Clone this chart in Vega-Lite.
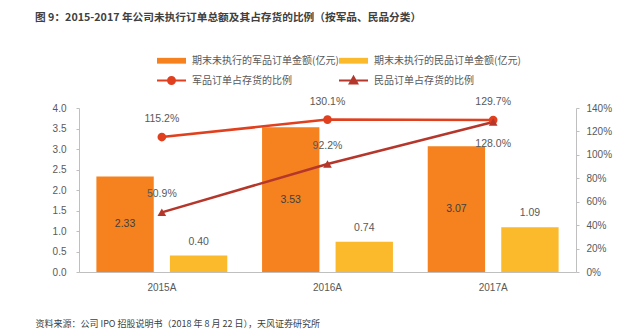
{
  "$schema": "https://vega.github.io/schema/vega-lite/v6.json",
  "width": 497,
  "height": 164,
  "autosize": {"type": "none"},
  "padding": {"left": 79, "top": 108, "right": 64, "bottom": 58},
  "background": "white",
  "config": {"view": {"stroke": null}, "font": "Noto Sans CJK SC"},
  "title": {
    "text": "图 9：2015-2017 年公司未执行订单总额及其占存货的比例（按军品、民品分类）",
    "anchor": "start",
    "frame": "group",
    "dx": -44,
    "offset": 22,
    "font": "Noto Sans CJK SC",
    "fontSize": 10.7,
    "fontWeight": "bold",
    "color": "#404040"
  },
  "datasets": {
    "bars": [
      {"year": "2015A", "series": "期末未执行的军品订单金额(亿元)", "value": 2.33},
      {"year": "2015A", "series": "期末未执行的民品订单金额(亿元)", "value": 0.40},
      {"year": "2016A", "series": "期末未执行的军品订单金额(亿元)", "value": 3.53},
      {"year": "2016A", "series": "期末未执行的民品订单金额(亿元)", "value": 0.74},
      {"year": "2017A", "series": "期末未执行的军品订单金额(亿元)", "value": 3.07},
      {"year": "2017A", "series": "期末未执行的民品订单金额(亿元)", "value": 1.09}
    ],
    "ratios": [
      {"year": "2015A", "series": "军品订单占存货的比例", "pct": 1.152},
      {"year": "2016A", "series": "军品订单占存货的比例", "pct": 1.301},
      {"year": "2017A", "series": "军品订单占存货的比例", "pct": 1.297},
      {"year": "2015A", "series": "民品订单占存货的比例", "pct": 0.509},
      {"year": "2016A", "series": "民品订单占存货的比例", "pct": 0.922},
      {"year": "2017A", "series": "民品订单占存货的比例", "pct": 1.280}
    ]
  },
  "layer": [
    {
      "data": {"name": "bars"},
      "encoding": {
        "x": {
          "field": "year",
          "type": "nominal",
          "scale": {"paddingInner": 0.21, "paddingOuter": 0.105},
          "axis": {
            "title": "资料来源：公司 IPO 招股说明书（2018 年 8 月 22 日），天风证券研究所",
            "labelAngle": 0,
            "ticks": false,
            "domainColor": "#BFBFBF",
            "labelPadding": 10,
            "labelColor": "#595959",
            "labelFont": "Liberation Sans",
            "labelFontSize": 10,
            "titleX": -44,
            "titleY": 51,
            "titleAlign": "left",
            "titleBaseline": "middle",
            "titleFontWeight": "normal",
            "titleFontSize": 9,
            "titleColor": "#404040",
            "titleFont": "Noto Sans CJK SC"
          }
        },
        "xOffset": {
          "field": "series",
          "type": "nominal",
          "scale": {"domain": ["期末未执行的军品订单金额(亿元)", "期末未执行的民品订单金额(亿元)"], "paddingInner": 0.22, "paddingOuter": 0}
        }
      },
      "layer": [
        {
          "mark": {"type": "bar"},
          "encoding": {
            "y": {
              "field": "value",
              "type": "quantitative",
              "scale": {"domain": [0, 4]},
              "axis": {
                "title": null,
                "values": [0, 0.5, 1, 1.5, 2, 2.5, 3, 3.5, 4],
                "format": ".1f",
                "grid": false,
                "domainColor": "#BFBFBF",
                "tickColor": "#BFBFBF",
                "tickSize": 3,
                "labelColor": "#595959",
                "labelFontSize": 10,
                "labelFont": "Liberation Sans",
                "labelPadding": 10
              }
            },
            "color": {
              "field": "series",
              "type": "nominal",
              "scale": {
                "domain": ["期末未执行的军品订单金额(亿元)", "期末未执行的民品订单金额(亿元)", "军品订单占存货的比例", "民品订单占存货的比例"],
                "range": ["#F5821F", "#FBB92C", "#E0401E", "#B5362A"]
              },
              "legend": {
                "title": null,
                "orient": "none",
                "legendX": 78,
                "legendY": -62,
                "direction": "horizontal",
                "columns": 2,
                "columnPadding": -4,
                "rowPadding": -4,
                "padding": 0,
                "symbolSize": 841,
                "labelFontSize": 10,
                "labelColor": "#595959",
                "labelOffset": 6,
                "labelLimit": 200,
                "symbolType": "M-1,-0.2H1V0.2H-1Z",
                "symbolStrokeWidth": 0,
                "encode": {
                  "symbols": {
                    "update": {
                      "shape": {"signal": "(datum.value === '军品订单占存货的比例' ? 'M-1,0H1M0.24,0A0.24,0.24 0 1,1 -0.24,0A0.24,0.24 0 1,1 0.24,0Z' : (datum.value === '民品订单占存货的比例' ? 'M-1,0H1M0,-0.26L0.26,0.2L-0.26,0.2Z' : 'M-1,-0.2H1V0.2H-1Z'))"},
                      "stroke": {"signal": "(datum.value === '军品订单占存货的比例' ? '#E0401E' : (datum.value === '民品订单占存货的比例' ? '#B5362A' : 'transparent'))"},
                      "strokeWidth": {"signal": "((datum.value === '军品订单占存货的比例' || datum.value === '民品订单占存货的比例') ? 2 : 0)"}
                    }
                  }
                }
              }
            }
          }
        },
        {
          "transform": [{"filter": "datum.series === '期末未执行的军品订单金额(亿元)'"}],
          "mark": {"type": "text", "baseline": "middle", "fontSize": 10.5, "font": "Liberation Sans", "color": "#404040"},
          "encoding": {
            "y": {"field": "value", "type": "quantitative", "scale": {"domain": [0, 8]}, "axis": null},
            "text": {"field": "value", "type": "quantitative", "format": ".2f"}
          }
        },
        {
          "transform": [{"filter": "datum.series === '期末未执行的民品订单金额(亿元)'"}],
          "mark": {"type": "text", "baseline": "middle", "dy": -14, "fontSize": 10.5, "font": "Liberation Sans", "color": "#595959"},
          "encoding": {
            "y": {"field": "value", "type": "quantitative", "scale": {"domain": [0, 4]}, "axis": null},
            "text": {"field": "value", "type": "quantitative", "format": ".2f"}
          }
        }
      ],
      "resolve": {"scale": {"y": "independent"}}
    },
    {
      "data": {"name": "ratios"},
      "encoding": {
        "x": {"field": "year", "type": "nominal"},
        "y": {
          "field": "pct",
          "type": "quantitative",
          "scale": {"domain": [0, 1.4]},
          "axis": {
            "orient": "right",
            "title": null,
            "values": [0, 0.2, 0.4, 0.6, 0.8, 1.0, 1.2, 1.4],
            "format": ".0%",
            "grid": false,
            "domainColor": "#BFBFBF",
            "tickColor": "#BFBFBF",
            "tickSize": 3,
            "labelColor": "#595959",
            "labelFontSize": 10,
            "labelFont": "Liberation Sans",
            "labelPadding": 7
          }
        }
      },
      "layer": [
        {
          "mark": {"type": "line", "strokeWidth": 2.5},
          "encoding": {"color": {"field": "series", "type": "nominal"}}
        },
        {
          "mark": {"type": "point", "filled": true, "opacity": 1, "size": 75},
          "encoding": {
            "color": {"field": "series", "type": "nominal"},
            "shape": {
              "field": "series",
              "type": "nominal",
              "scale": {"domain": ["军品订单占存货的比例", "民品订单占存货的比例"], "range": ["circle", "triangle-up"]},
              "legend": null
            }
          }
        },
        {
          "transform": [{"filter": "!(datum.series === '民品订单占存货的比例' && datum.year === '2017A')"}],
          "mark": {"type": "text", "baseline": "middle", "dy": -18, "fontSize": 10.5, "font": "Liberation Sans", "color": "#595959"},
          "encoding": {"text": {"field": "pct", "type": "quantitative", "format": ".1%"}}
        },
        {
          "transform": [{"filter": "datum.series === '民品订单占存货的比例' && datum.year === '2017A'"}],
          "mark": {"type": "text", "baseline": "middle", "dy": 22, "fontSize": 10.5, "font": "Liberation Sans", "color": "#595959"},
          "encoding": {"text": {"field": "pct", "type": "quantitative", "format": ".1%"}}
        }
      ]
    }
  ],
  "resolve": {"scale": {"y": "independent"}}
}
